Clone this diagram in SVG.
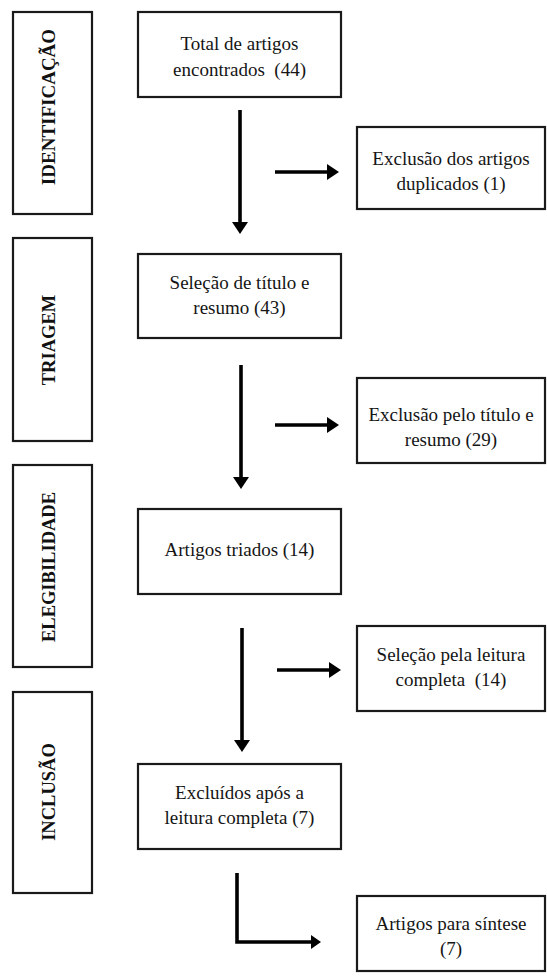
<svg xmlns="http://www.w3.org/2000/svg" width="547" height="976" viewBox="0 0 547 976">
<style>
.box{fill:#fff;stroke:#1a1a1a;stroke-width:2.2}
.t{font-family:'Liberation Serif','Times New Roman',Times,serif;font-size:19px;font-weight:normal;fill:#151515;text-anchor:middle}
.side{font-family:'Liberation Serif','Times New Roman',Times,serif;font-size:18.5px;font-weight:bold;fill:#111;text-anchor:middle}
.arr{fill:none;stroke:#000;stroke-width:3.6}
</style>
<defs>
<marker id="ah" viewBox="0 0 12 16" refX="0" refY="8" markerWidth="12" markerHeight="16" markerUnits="userSpaceOnUse" orient="auto">
<path d="M0,0 L12,8 L0,16 Z" fill="#000"/>
</marker>
<marker id="ahs" viewBox="0 0 10 14" refX="0" refY="7" markerWidth="10" markerHeight="14" markerUnits="userSpaceOnUse" orient="auto">
<path d="M0,0 L10,7 L0,14 Z" fill="#000"/>
</marker>
</defs>
<rect width="547" height="976" fill="#fff"/>

<g id="phase-identificacao">
<rect class="box" x="13" y="12" width="79" height="202"/>
<text class="side" transform="translate(55,107) rotate(-90)" style="font-size:19px">IDENTIFICAÇÃO</text>
</g>
<g id="phase-triagem">
<rect class="box" x="13" y="238" width="79" height="203"/>
<text class="side" transform="translate(55,340) rotate(-90)">TRIAGEM</text>
</g>
<g id="phase-elegibilidade">
<rect class="box" x="13" y="465" width="79" height="202"/>
<text class="side" transform="translate(55,567) rotate(-90)">ELEGIBILIDADE</text>
</g>
<g id="phase-inclusao">
<rect class="box" x="13" y="692" width="79" height="201"/>
<text class="side" transform="translate(55,792) rotate(-90)">INCLUSÃO</text>
</g>

<g id="n-total">
<rect class="box" x="138" y="12" width="203" height="85"/>
<text class="t" x="239.5" y="50">Total de artigos</text>
<text class="t" x="239.5" y="76" xml:space="preserve">encontrados  (44)</text>
</g>
<g id="n-duplicados">
<rect class="box" x="357" y="127" width="188" height="82"/>
<text class="t" x="451" y="165">Exclusão dos artigos</text>
<text class="t" x="451" y="190">duplicados (1)</text>
</g>
<g id="n-selecao-titulo">
<rect class="box" x="138" y="254" width="203" height="84"/>
<text class="t" x="239.5" y="289">Seleção de título e</text>
<text class="t" x="239.5" y="314">resumo (43)</text>
</g>
<g id="n-exclusao-titulo">
<rect class="box" x="357" y="378" width="188" height="85"/>
<text class="t" x="451" y="421">Exclusão pelo título e</text>
<text class="t" x="451" y="446">resumo (29)</text>
</g>
<g id="n-triados">
<rect class="box" x="138" y="509" width="203" height="85"/>
<text class="t" x="239.5" y="556">Artigos triados (14)</text>
</g>
<g id="n-selecao-leitura">
<rect class="box" x="357" y="626" width="188" height="85"/>
<text class="t" x="451" y="661">Seleção pela leitura</text>
<text class="t" x="451" y="686" xml:space="preserve">completa  (14)</text>
</g>
<g id="n-excluidos">
<rect class="box" x="138" y="764" width="203" height="85"/>
<text class="t" x="239.5" y="799">Excluídos após a</text>
<text class="t" x="239.5" y="824">leitura completa (7)</text>
</g>
<g id="n-sintese">
<rect class="box" x="357" y="896" width="188" height="75"/>
<text class="t" x="451" y="930">Artigos para síntese</text>
<text class="t" x="451" y="955">(7)</text>
</g>

<g id="connectors">
<line class="arr" x1="240" y1="110" x2="240" y2="222" marker-end="url(#ah)"/>
<line class="arr" x1="275" y1="172" x2="327" y2="172" marker-end="url(#ah)"/>
<line class="arr" x1="241" y1="365" x2="241" y2="477" marker-end="url(#ah)"/>
<line class="arr" x1="275" y1="425" x2="327" y2="425" marker-end="url(#ah)"/>
<line class="arr" x1="242" y1="628" x2="242" y2="740" marker-end="url(#ah)"/>
<line class="arr" x1="277" y1="670" x2="329" y2="670" marker-end="url(#ah)"/>
<polyline class="arr" points="237,873 237,942 311,942" marker-end="url(#ahs)"/>
</g>
</svg>
